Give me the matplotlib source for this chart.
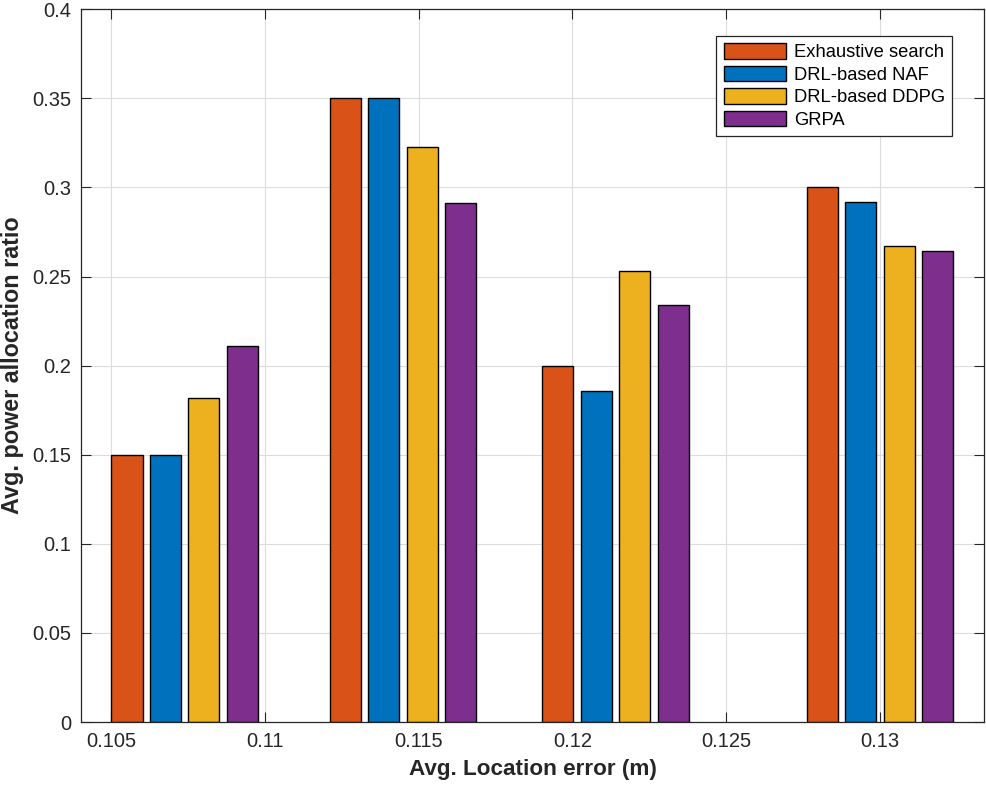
import matplotlib
matplotlib.use("Agg")
import matplotlib.pyplot as plt
import numpy as np

# Data
x_groups = [0.1074, 0.1145, 0.1214, 0.1300]
series_names = ["Exhaustive search", "DRL-based NAF", "DRL-based DDPG", "GRPA"]
exhaustive = [0.150, 0.350, 0.200, 0.300]
naf = [0.150, 0.350, 0.186, 0.292]
ddpg = [0.182, 0.3225, 0.2534, 0.2669]
grpa = [0.211, 0.2911, 0.2343, 0.2642]
x_ticks = [0.105, 0.11, 0.115, 0.12, 0.125, 0.13]
x_tick_labels = ["0.105", "0.11", "0.115", "0.12", "0.125", "0.13"]
y_ticks = [0, 0.05, 0.1, 0.15, 0.2, 0.25, 0.3, 0.35, 0.4]
y_tick_labels = ["0", "0.05", "0.1", "0.15", "0.2", "0.25", "0.3", "0.35", "0.4"]

colors = ["#D95319", "#0072BD", "#EDB120", "#7E2F8E"]
txt = "#262626"

plt.rcParams['font.family'] = ['Liberation Sans', 'DejaVu Sans']

fig = plt.figure(figsize=(9.87, 7.88), dpi=100)
ax = fig.add_axes([80.7/987, 66/788, (984.3-80.7)/987, (722-9.3)/788])

step = 0.00125
width = 0.00101
xg = np.array(x_groups)
for i, (vals, name) in enumerate(zip([exhaustive, naf, ddpg, grpa], series_names)):
    ax.bar(xg + (i - 1.5) * step, vals, width=width, color=colors[i],
           edgecolor="black", linewidth=1.0, label=name, zorder=3)

ax.set_xlim(0.10402, 0.13339)
ax.set_ylim(0, 0.4)
ax.set_xticks(x_ticks)
ax.set_xticklabels(x_tick_labels)
ax.set_yticks(y_ticks)
ax.set_yticklabels(y_tick_labels)

ax.grid(True, color="#dcdcdc", linewidth=0.8, zorder=0)
ax.set_axisbelow(True)
ax.tick_params(direction="in", length=7, width=0.8, top=True, right=True,
               labelsize=14.5, colors=txt)
ax.tick_params(axis="x", pad=7)
ax.tick_params(axis="y", pad=7)
for s in ax.spines.values():
    s.set_color(txt)
    s.set_linewidth(0.9)
    s.set_zorder(4)

ax.set_xlabel("Avg. Location error (m)", fontsize=16.2, fontweight="bold", color=txt, labelpad=6)
ax.set_ylabel("Avg. power allocation ratio", fontsize=16.8, fontweight="bold", color=txt, labelpad=6)

leg = ax.legend(loc="upper right", bbox_to_anchor=(952.3/987, 1 - 36/788),
                bbox_transform=fig.transFigure, borderaxespad=0,
                fontsize=13.2, fancybox=False, framealpha=1, edgecolor=txt,
                handlelength=3.4, handleheight=0.9, handletextpad=0.42,
                labelspacing=0.25, borderpad=0.4)
leg.get_frame().set_linewidth(0.9)
for t in leg.get_texts():
    t.set_color("black")

fig.savefig("out.png", dpi=100)
